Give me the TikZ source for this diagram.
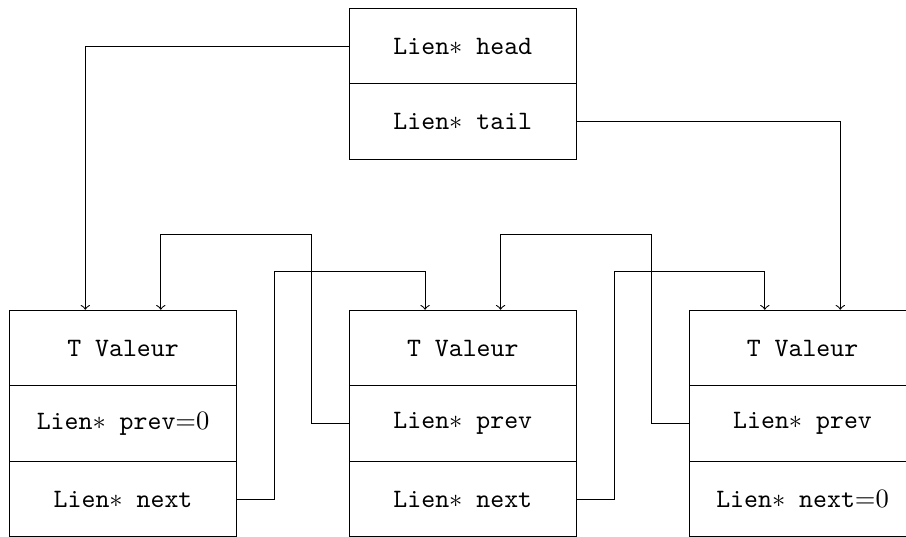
\documentclass[tikz,border=0pt]{standalone}
\begin{document}
\begin{tikzpicture}[
  cell/.style={draw, rectangle, minimum width=3cm, minimum height=1cm, inner sep=0pt, font=\ttfamily},
  link/.style={->}
]
\useasboundingbox (0,0.01) rectangle (12,7.11);
% top structure
\node[cell] (head) at (6.13,6.5) {Lien$*$ head};
\node[cell] (tail) at (6.13,5.5) {Lien$*$ tail};
% elements
\node[cell] (v1) at (1.63,2.5) {T Valeur};
\node[cell] (p1) at (1.63,1.5) {Lien$*$ prev${=}0$};
\node[cell] (n1) at (1.63,0.5) {Lien$*$ next};
\node[cell] (v2) at (6.13,2.5) {T Valeur};
\node[cell] (p2) at (6.13,1.5) {Lien$*$ prev};
\node[cell] (n2) at (6.13,0.5) {Lien$*$ next};
\node[cell] (v3) at (10.63,2.5) {T Valeur};
\node[cell] (p3) at (10.63,1.5) {Lien$*$ prev};
\node[cell] (n3) at (10.63,0.5) {Lien$*$ next${=}0$};
% head / tail
\draw[link] (head.west) -| ([xshift=-0.5cm]v1.north);
\draw[link] (tail.east) -| ([xshift=0.5cm]v3.north);
% next links
\draw[link] (n1.east) -- ++(0.5,0) |- ([xshift=-0.5cm,yshift=0.505cm]v2.north) -- ([xshift=-0.5cm]v2.north);
\draw[link] (n2.east) -- ++(0.5,0) |- ([xshift=-0.5cm,yshift=0.505cm]v3.north) -- ([xshift=-0.5cm]v3.north);
% prev links
\draw[link] (p2.west) -- ++(-0.5,0) |- ([xshift=0.5cm,yshift=1cm]v1.north) -- ([xshift=0.5cm]v1.north);
\draw[link] (p3.west) -- ++(-0.5,0) |- ([xshift=0.5cm,yshift=1cm]v2.north) -- ([xshift=0.5cm]v2.north);
\end{tikzpicture}
\end{document}
